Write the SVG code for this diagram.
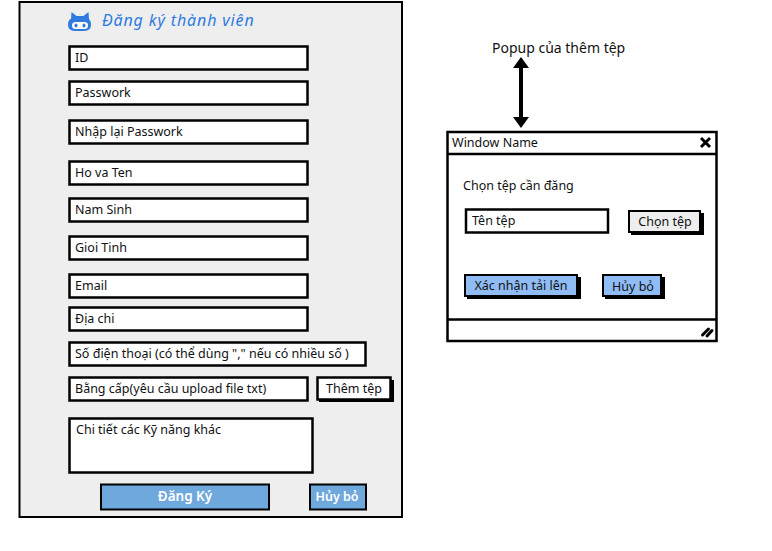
<svg xmlns="http://www.w3.org/2000/svg" width="772" height="551" viewBox="0 0 772 551">
<style>
text{font-family:"Noto Sans","Liberation Sans",sans-serif;font-size:12.5px;fill:#111}
.b{fill:#fff;stroke:#000;stroke-width:2.5}
.s{fill:#000}
.title{font-size:16px;font-style:italic;fill:#2f7be0;letter-spacing:.85px}
.w{fill:#fff;font-weight:600;font-size:13.5px}
.c{text-anchor:middle}
</style>
<rect width="772" height="551" fill="#fff"/>
<g id="panel"><rect x="19.500" y="2" width="382.500" height="515" fill="#eee" stroke="#000" stroke-width="2"/></g>
<g id="title">
<path d="M71 19l0.500-7 5 4h7l5-4 0.500 7q2 2 2 6q0 6-8 6h-7q-8 0-8-6q0-4 2-6z" fill="#2f7be0"/>
<rect x="72" y="22" width="16" height="7" rx="3.500" fill="#fff"/>
<ellipse cx="76" cy="25.500" rx="1.500" ry="2" fill="#2f7be0"/><ellipse cx="84" cy="25.500" rx="1.500" ry="2" fill="#2f7be0"/>
<text class="title" x="102" y="26">Đăng ký thành viên</text></g>
<g id="f-id"><rect class="b" x="69.500" y="46.500" width="238" height="23"/><text x="75" y="62">ID</text></g>
<g id="f-pass"><rect class="b" x="69.500" y="81.500" width="238" height="23"/><text x="75" y="97">Passwork</text></g>
<g id="f-repass"><rect class="b" x="69.500" y="120.500" width="238" height="23"/><text x="75" y="136">Nhập lại Passwork</text></g>
<g id="f-name"><rect class="b" x="69.500" y="161.500" width="238" height="23"/><text x="75" y="177">Ho va Ten</text></g>
<g id="f-year"><rect class="b" x="69.500" y="198.500" width="238" height="23"/><text x="75" y="214">Nam Sinh</text></g>
<g id="f-gender"><rect class="b" x="69.500" y="236.500" width="238" height="23"/><text x="75" y="252">Gioi Tinh</text></g>
<g id="f-email"><rect class="b" x="69.500" y="274.500" width="238" height="23"/><text x="75" y="290">Email</text></g>
<g id="f-addr"><rect class="b" x="69.500" y="307.500" width="238" height="23"/><text x="75" y="323">Địa chi</text></g>
<g id="f-phone"><rect class="b" x="69.500" y="342.500" width="296" height="23"/><text x="75" y="358">Số điện thoại (có thể dùng "," nếu có nhiều số )</text></g>
<g id="f-degree"><rect class="b" x="69.500" y="377.500" width="238" height="23"/><text x="75" y="393">Bằng cấp(yêu cầu upload file txt)</text></g>
<g id="btn-add"><rect class="s" x="319" y="380" width="75" height="22"/><rect class="b" x="317.500" y="377.500" width="73" height="22"/><text class="c" x="354" y="393">Thêm tệp</text></g>
<g id="f-skills"><rect class="b" x="69.500" y="418.500" width="243" height="54"/><text x="76" y="434">Chi tiết các Kỹ năng khác</text></g>
<g id="btn-register"><rect x="101" y="484.500" width="168" height="25" fill="#6fa8dc" stroke="#000" stroke-width="2"/><text class="w c" x="185" y="501">Đăng Ký</text></g>
<g id="btn-cancel"><rect x="310" y="484.500" width="56" height="25" fill="#6fa8dc" stroke="#000" stroke-width="2"/><text class="w c" x="337" y="501" style="font-size:12.500px">Hủy bỏ</text></g>
<g id="popup-label"><text x="492" y="53" style="font-size:14px">Popup của thêm tệp</text></g>
<g id="connectors"><path d="M521 66V118" stroke="#000" stroke-width="4" fill="none"/><path d="M521 57l8 11h-16zM521 128l-8-11h16z" fill="#000"/></g>
<g id="popup">
<rect x="447.500" y="132" width="269" height="209" fill="#fff" stroke="#000" stroke-width="2.500"/>
<path d="M447 154H716M447 319.500H716" stroke="#000" stroke-width="2.500" fill="none"/>
<text x="452" y="147">Window Name</text>
<path d="M701 138l9 9M710 138l-9 9" stroke="#000" stroke-width="3" fill="none"/>
<path d="M702.500 335l6-6M707 336l5-5.500" stroke="#000" stroke-width="3" stroke-linecap="round" fill="none"/>
</g>
<g id="popup-heading"><text x="463" y="190">Chọn tệp cần đăng</text></g>
<g id="popup-input"><rect class="b" x="466" y="209.500" width="142" height="23"/><text x="472" y="225">Tên tệp</text></g>
<g id="popup-choose"><rect class="s" x="631" y="213" width="73" height="22"/><rect x="629" y="211" width="71" height="21" fill="#eee" stroke="#000" stroke-width="2"/><text class="c" x="665" y="226">Chọn tệp</text></g>
<g id="popup-confirm"><rect class="s" x="467" y="277" width="114" height="22"/><rect x="465" y="275" width="112" height="21" fill="#8fbcf5" stroke="#000" stroke-width="2"/><text class="c" x="521" y="290">Xác nhận tải lên</text></g>
<g id="popup-cancel"><rect class="s" x="605" y="277" width="60" height="22"/><rect x="603" y="275" width="58" height="21" fill="#8fbcf5" stroke="#000" stroke-width="2"/><text class="c" x="633" y="291">Hủy bỏ</text></g>
</svg>
